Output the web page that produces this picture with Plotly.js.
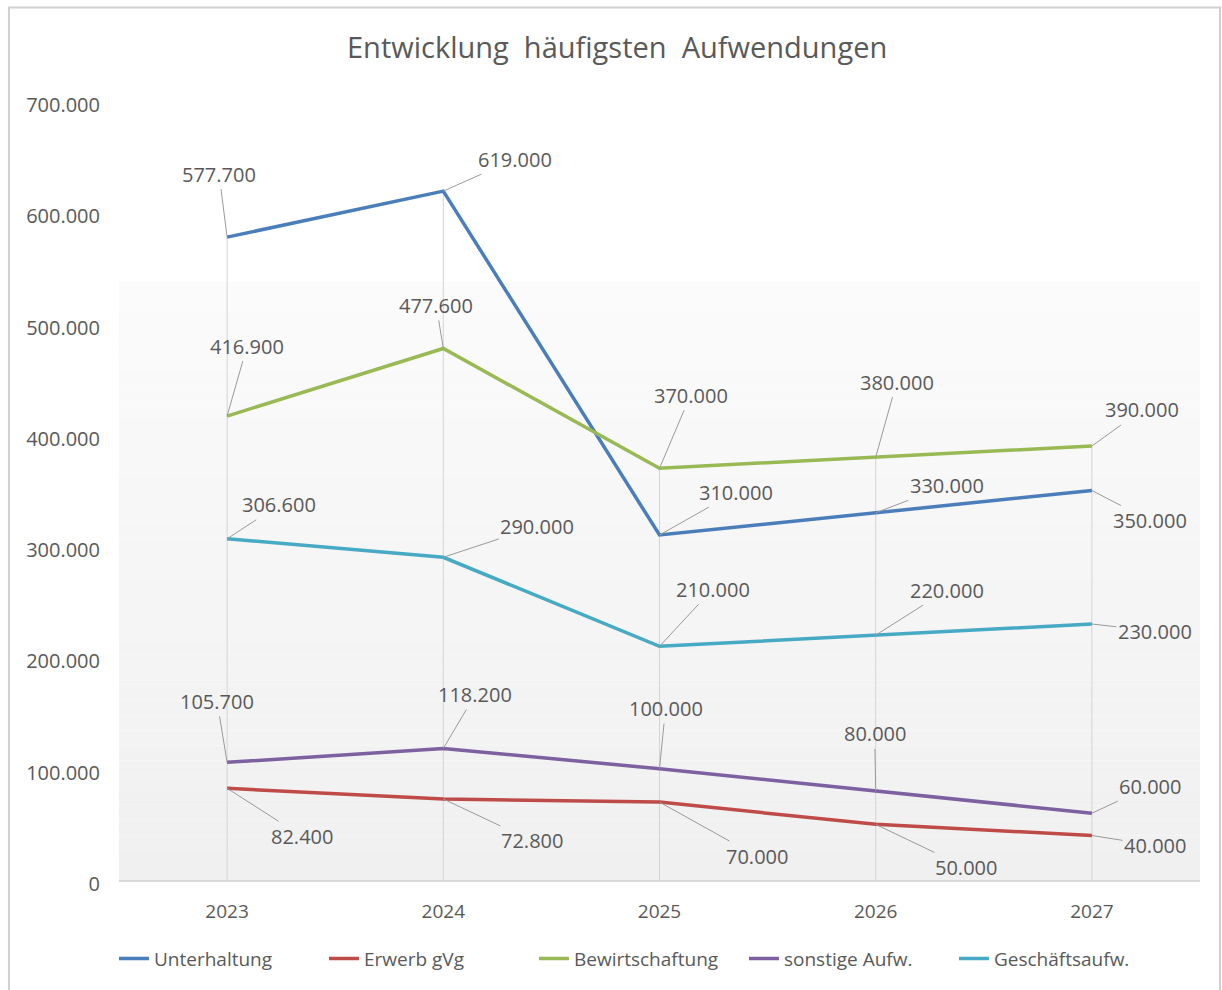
<!DOCTYPE html>
<html>
<head>
<meta charset="utf-8">
<script src="https://cdn.plot.ly/plotly-3.0.1.min.js"></script>
<style>html,body{margin:0;padding:0;background:#fff;}#chart{width:1222px;height:990px;}</style>
</head>
<body>
<div id="chart"></div>
<script>
// ---- data ----
const years = ['2023', '2024', '2025', '2026', '2027'];
const unterhaltung = [577700, 619000, 310000, 330000, 350000];
const erwerbGvg = [82400, 72800, 70000, 50000, 40000];
const bewirtschaftung = [416900, 477600, 370000, 380000, 390000];
const sonstigeAufw = [105700, 118200, 100000, 80000, 60000];
const geschaeftsaufw = [306600, 290000, 210000, 220000, 230000];
const seriesNames = ['Unterhaltung', 'Erwerb gVg', 'Bewirtschaftung', 'sonstige Aufw.', 'Geschäftsaufw.'];
const yTickValues = [0, 100000, 200000, 300000, 400000, 500000, 600000, 700000];

// ---- styles ----
const colors = ['#4a7ebb', '#be4b48', '#98b954', '#7d60a0', '#46aac5'];
const seriesData = [unterhaltung, erwerbGvg, bewirtschaftung, sonstigeAufw, geschaeftsaufw];
// label offsets (px) per series per category
const labelOffsets = [
  [[-8, -63], [72, -32], [76, -43], [71, -27], [58, 30]],
  [[75, 48], [89, 42], [97, 54], [90, 43], [63, 10]],
  [[20, -70], [-7, -43], [31, -73], [21, -75], [50, -36]],
  [[-10, -61], [32, -54], [6, -60], [-1, -57], [58, -27]],
  [[52, -34], [94, -31], [53, -57], [71, -45], [63, 7]]
];
const FONT = 'Open Sans, sans-serif';
const TXT = '#595959';

function fmt(v) {
  return String(Math.round(v)).replace(/\B(?=(\d{3})+(?!\d))/g, '.');
}

// drop lines: from the highest value at each category down to the axis
const dropX = [], dropY = [];
years.forEach((yr, i) => {
  const m = Math.max(...seriesData.map(s => s[i]));
  dropX.push(yr, yr, null);
  dropY.push(0, m, null);
});

const traces = [{
  x: dropX, y: dropY, mode: 'lines', type: 'scatter',
  line: {color: '#d4d4d4', width: 1}, showlegend: false, hoverinfo: 'skip'
}];
seriesData.forEach((s, k) => {
  traces.push({
    x: years, y: s, name: seriesNames[k], type: 'scatter', mode: 'lines',
    line: {color: colors[k], width: 3.5}
  });
});

const annotations = [];
seriesData.forEach((s, k) => {
  s.forEach((v, i) => {
    annotations.push({
      x: i, y: v, xref: 'x', yref: 'y', text: fmt(v),
      showarrow: true, arrowhead: 0, arrowwidth: 1, arrowcolor: '#9a9a9a',
      ax: labelOffsets[k][i][0], ay: labelOffsets[k][i][1],
      axref: 'pixel', ayref: 'pixel',
      font: {family: FONT, size: 20, color: TXT}
    });
  });
});

// plot-area gradient (style only)
const shapes = [];
const gTop = 0.7676, nBands = 40;
for (let b = 0; b < nBands; b++) {
  const t = b / (nBands - 1);
  const c = Math.round(240 + (251 - 240) * t);
  shapes.push({
    type: 'rect', xref: 'paper', yref: 'paper', layer: 'below',
    x0: 0, x1: 1, y0: gTop * b / nBands, y1: gTop * (b + 1) / nBands,
    fillcolor: `rgb(${c},${c},${c})`, line: {width: 0}
  });
}
// chart frame
shapes.push({
  type: 'rect', xref: 'paper', yref: 'paper', layer: 'above',
  x0: -0.1018, x1: 1.0185, y0: -0.16, y1: 1.12,
  line: {color: '#d0d0d0', width: 2}, fillcolor: 'rgba(0,0,0,0)'
});

const layout = {
  width: 1222, height: 990,
  margin: {l: 119, r: 22, t: 101, b: 106},
  paper_bgcolor: '#ffffff', plot_bgcolor: '#ffffff',
  separators: ',.',
  font: {family: FONT, color: TXT, size: 18},
  title: {
    text: 'Entwicklung  häufigsten  Aufwendungen',
    font: {family: FONT, size: 29, color: TXT},
    x: 0.505, xref: 'container', xanchor: 'center',
    y: 0.9515, yref: 'container', yanchor: 'middle'
  },
  xaxis: {
    type: 'category', range: [-0.5, 4.5], showgrid: false, zeroline: false,
    showline: true, linecolor: '#d9d9d9', linewidth: 1.5,
    ticks: '', ticklabelstandoff: 14,
    tickfont: {family: FONT, size: 19, color: TXT}, fixedrange: true
  },
  yaxis: {
    range: [0, 700000], tickvals: yTickValues, tickformat: ',d',
    showgrid: false, zeroline: false, showline: false, ticks: '',
    ticklabelstandoff: 18, ticklabelshift: 4,
    tickfont: {family: FONT, size: 20, color: TXT}, fixedrange: true
  },
  legend: {
    orientation: 'h', x: 0.481, xanchor: 'center', y: -0.101, yanchor: 'middle',
    font: {family: FONT, size: 19, color: TXT}, entrywidth: 165,
    bgcolor: 'rgba(0,0,0,0)'
  },
  annotations: annotations,
  shapes: shapes,
  showlegend: true
};

Plotly.newPlot('chart', traces, layout, {displayModeBar: false, staticPlot: true});
</script>
</body>
</html>
